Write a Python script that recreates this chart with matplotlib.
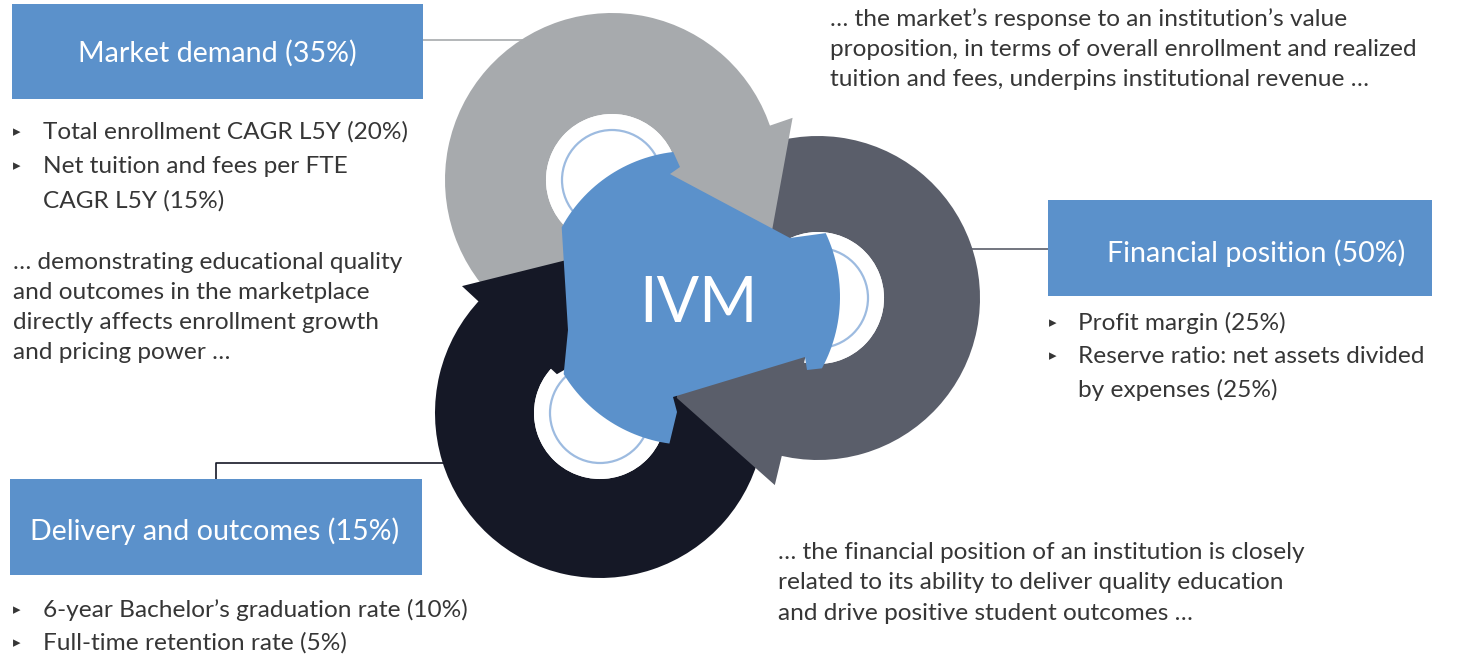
import matplotlib
matplotlib.use("Agg")
import matplotlib.pyplot as plt
from matplotlib.patches import Wedge, Circle, Polygon, Rectangle
import numpy as np

# ---------------- content ----------------
pillars = ["Market demand", "Financial position", "Delivery and outcomes"]
pillar_weights = [35, 50, 15]

market_items = ["Total enrollment CAGR L5Y", "Net tuition and fees per FTE\nCAGR L5Y"]
market_weights = [20, 15]
financial_items = ["Profit margin", "Reserve ratio: net assets divided\nby expenses"]
financial_weights = [25, 25]
delivery_items = ["6-year Bachelor\u2019s graduation rate", "Full-time retention rate"]
delivery_weights = [10, 5]

center_label = "IVM"

para_market = ["\u2026 the market\u2019s response to an institution\u2019s value",
               "proposition, in terms of overall enrollment and realized",
               "tuition and fees, underpins institutional revenue \u2026"]
para_delivery = ["\u2026 demonstrating educational quality",
                 "and outcomes in the marketplace",
                 "directly affects enrollment growth",
                 "and pricing power \u2026"]
para_financial = ["\u2026 the financial position of an institution is closely",
                  "related to its ability to deliver quality education",
                  "and drive positive student outcomes \u2026"]

# ---------------- style ----------------
W, H = 1461, 657
BLUE = "#5b91cb"
LGRAY = "#a7aaad"
DGRAY = "#5a5e6a"
NAVY = "#151826"
TEXT = "#363636"
THIN = "#9dbbe0"
FONT = "Lato"

fig = plt.figure(figsize=(W / 100, H / 100), dpi=100)
ax = fig.add_axes([0, 0, 1, 1])
ax.set_xlim(0, W)
ax.set_ylim(H, 0)
ax.axis("off")
fig.canvas.draw()
renderer = fig.canvas.get_renderer()


def fit_size(s, target_px, weight="normal", base=20.0):
    t = ax.text(0, 0, s, fontsize=base, family=FONT, weight=weight)
    w = t.get_window_extent(renderer=renderer).width
    t.remove()
    return base * target_px / w


body_fs = fit_size("Total enrollment CAGR L5Y (20%)", 365)
title_fs = fit_size("Market demand (35%)", 279)
ivm_fs = fit_size(center_label, 118)

# ---------------- connectors ----------------
ax.plot([423, 540], [40, 40], color=LGRAY, lw=1.2, zorder=1)
ax.plot([950, 1048], [249, 249], color=DGRAY, lw=1.2, zorder=1)
ax.plot([216, 216, 470], [479, 463, 463], color=NAVY, lw=1.2, zorder=1)

# ---------------- rings ----------------
C = (690, 297)  # centre of the blue hub
rings = [
    dict(c=(612, 180), R=167, color=LGRAY, body=(100, 343),
         head=[(56, 341), (191, 341), (173, 386.1)]),
    dict(c=(818, 298), R=162, color=DGRAY, body=(215, 465),
         head=[(58, 462), (192, 463), (173, 504.7)]),
    dict(c=(600, 413), R=165, color=NAVY, body=(340, 584),
         head=[(58, 582.0), (187.5, 582.6), (158, 623.8)]),
]
HOLE = 66
THIN_R = 50


def polar(c, r, deg):
    a = np.deg2rad(deg)
    return (c[0] + r * np.cos(a), c[1] + r * np.sin(a))


for rg in rings:
    ax.add_patch(Wedge(rg["c"], rg["R"], rg["body"][0], rg["body"][1],
                       width=rg["R"] - HOLE, facecolor=rg["color"],
                       edgecolor="none", zorder=2))
for rg in rings:
    ax.add_patch(Circle(rg["c"], HOLE, facecolor="white", edgecolor="none", zorder=3))
    ax.add_patch(Circle(rg["c"], THIN_R, facecolor="none", edgecolor=THIN,
                        lw=1.6, zorder=3.5))
for rg in rings:
    pts = [polar(rg["c"], r, d) for r, d in rg["head"]]
    # close the head through the hub centre (hidden under the blue hub)
    pts = [pts[0], pts[1], pts[2], C]
    ax.add_patch(Polygon(pts, closed=True, facecolor=rg["color"],
                         edgecolor="none", zorder=4))


# ---------------- blue centre ----------------
def arc(r, a0, a1, n=30):
    return [polar(C, r, a) for a in np.linspace(a0, a1, n)]


blue_pts = []
blue_pts += arc(146, 208.5, 263.4)
blue_pts += [(680, 167), (670, 174), (790, 238)]
blue_pts += arc(150, -25.2, 28.4)
blue_pts += [(807, 370), (805, 357), (673, 397), (677, 412)]
blue_pts += arc(148, 98, 148.6)
blue_pts += [(568, 330)]
ax.add_patch(Polygon(blue_pts, closed=True, facecolor=BLUE, edgecolor="none", zorder=5))
ax.text(698, 322, center_label, fontsize=ivm_fs, family=FONT,
        color="white", ha="center", va="baseline", zorder=6)

# ---------------- boxes ----------------
boxes = [
    dict(xy=(12, 4), w=411, h=95, base=62, tx=217),
    dict(xy=(1048, 200), w=384, h=96, base=262, tx=1256),
    dict(xy=(10, 479), w=412, h=96, base=540, tx=215),
]
for name, wt, b in zip(pillars, pillar_weights, boxes):
    ax.add_patch(Rectangle(b["xy"], b["w"], b["h"], facecolor=BLUE,
                           edgecolor="none", zorder=2))
    ax.text(b["tx"], b["base"], f"{name} ({wt}%)",
            fontsize=title_fs, family=FONT, color="white",
            ha="center", va="baseline", zorder=3)


# ---------------- bullet lists ----------------
def bullets(items, weights, bx, tx, baselines):
    k = 0
    for item, wt in zip(items, weights):
        lines = f"{item} ({wt}%)".split("\n")
        ax.text(bx, baselines[k] - 3, "\u25b8", fontsize=body_fs * 0.62,
                family="DejaVu Sans", color=TEXT, ha="center", va="baseline")
        for ln in lines:
            ax.text(tx, baselines[k], ln, fontsize=body_fs, family=FONT,
                    color=TEXT, ha="left", va="baseline")
            k += 1


bullets(market_items, market_weights, 17, 43, [139, 173, 208])
bullets(financial_items, financial_weights, 1053, 1078, [330, 363, 397])
bullets(delivery_items, delivery_weights, 17, 43, [617, 650])


def para(lines, x, baselines):
    for ln, yb in zip(lines, baselines):
        ax.text(x, yb, ln, fontsize=body_fs, family=FONT, color=TEXT,
                ha="left", va="baseline")


para(para_market, 830, [26, 56, 86])
para(para_delivery, 13, [269, 299, 329, 359])
para(para_financial, 778, [559, 589, 620])

fig.savefig("out.png", dpi=100)
